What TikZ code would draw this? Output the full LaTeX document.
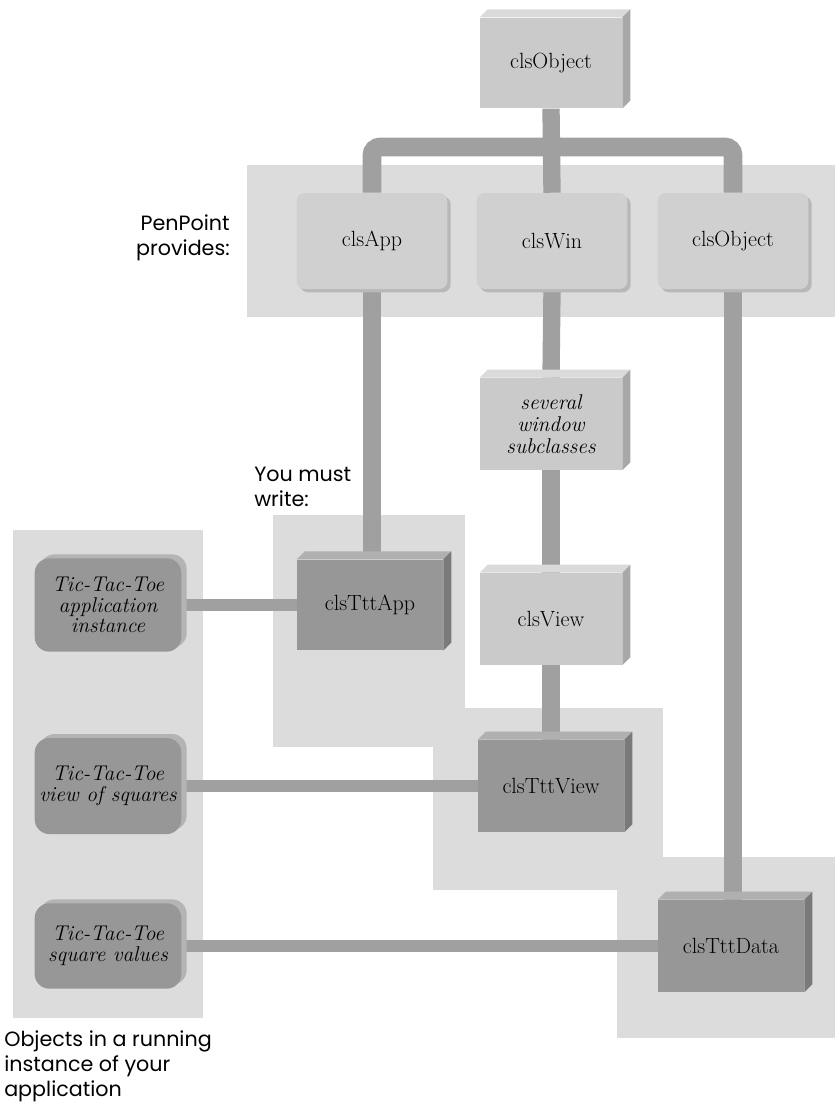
\documentclass[tikz,border=0pt]{standalone}
\usepackage{fontspec}
\newfontfamily\labelfont{Poppins}
\usetikzlibrary{calc,shadows}
\definecolor{bandc}{HTML}{DCDCDC}
\definecolor{penbox}{HTML}{D0D0D0}
\definecolor{penshade}{HTML}{B8B8B8}
\definecolor{lightbox}{HTML}{CACACA}
\definecolor{lighttop}{HTML}{DADADA}
\definecolor{lightside}{HTML}{A8A8A8}
\definecolor{darkbox}{HTML}{979797}
\definecolor{darktop}{HTML}{B0B0B0}
\definecolor{darkside}{HTML}{7A7A7A}
\definecolor{barc}{HTML}{A0A0A0}
\definecolor{rimc}{HTML}{B4B4B4}
\pgfdeclarelayer{bands}
\pgfdeclarelayer{links}
\pgfsetlayers{bands,links,main}
\newcommand\bevel[3]{%
  \fill[#2] (#1.north west) -- ++(6pt,6pt) -- ($(#1.north east)+(6pt,6pt)$) -- (#1.north east) -- cycle;
  \fill[#3] (#1.north east) -- ++(6pt,6pt) -- ($(#1.south east)+(6pt,6pt)$) -- (#1.south east) -- cycle;}
\tikzset{
  bandbox/.style={fill=bandc},
  clsfont/.style={font=\fontsize{16.5}{19}\selectfont},
  itfont/.style={font=\fontsize{16}{18.5}\selectfont\itshape, align=center},
  lightcls/.style={clsfont, fill=lightbox, inner sep=0pt, minimum width=106.5pt, minimum height=68pt},
  darkcls/.style={clsfont, fill=darkbox, inner sep=0pt, minimum width=109.5pt, minimum height=68pt},
  pencls/.style={clsfont, fill=penbox, inner sep=0pt, rounded corners=6pt, minimum width=113pt, minimum height=72pt,
    general shadow={fill=penshade, shadow xshift=2.5pt, shadow yshift=-2.5pt}},
  inst/.style={itfont, fill=darkbox, inner sep=0pt, rounded corners=11pt, minimum width=110pt,
    general shadow={fill=rimc, shadow xshift=4pt, shadow yshift=3pt}},
  stem/.style={draw=barc, line width=13pt},
  link/.style={draw=barc, line width=8.5pt},
  sidelabel/.style={font=\labelfont\fontsize{15.5}{19}\selectfont, inner sep=0pt}
}
\begin{document}
\begin{tikzpicture}[x=0.75pt,y=-0.75pt]
\useasboundingbox (0,0) rectangle (835,1113);

% class nodes
\node[lightcls] (topobj) at (551,63) {clsObject};
\node[pencls] (app) at (372,241) {clsApp};
\node[pencls] (win) at (552,241) {clsWin};
\node[pencls] (pobj) at (733,241) {clsObject};
\node[lightcls, itfont, minimum height=69pt] (several) at (551,424) {several\\[-2pt]window\\[-2pt]subclasses};
\node[lightcls, minimum height=69pt] (view) at (551,619) {clsView};
\node[darkcls] (tttapp) at (370,605) {clsTttApp};
\node[darkcls, minimum height=69pt] (tttview) at (551,786) {clsTttView};
\node[darkcls, minimum height=69pt] (tttdata) at (731,946) {clsTttData};
\bevel{topobj}{lighttop}{lightside}
\bevel{several}{lighttop}{lightside}
\bevel{view}{lighttop}{lightside}
\bevel{tttapp}{darktop}{darkside}
\bevel{tttview}{darktop}{darkside}
\bevel{tttdata}{darktop}{darkside}

% instance nodes
\node[inst, minimum height=70pt] (appinst) at (108,605) {Tic-Tac-Toe\\[-3pt]application\\[-3pt]instance};
\node[inst, minimum height=72pt] (viewinst) at (108,786) {Tic-Tac-Toe\\[-3pt]view of squares};
\node[inst, minimum height=64pt] (sqinst) at (108,946) {Tic-Tac-Toe\\[-3pt]square values};

% labels
\node[sidelabel, align=right, anchor=east] (pplabel) at (230,238) {PenPoint\\provides:};
\node[sidelabel, align=left, anchor=west] (wrlabel) at (254,487) {You must\\write:};
\node[sidelabel, align=left, anchor=north west] (objlabel) at (4,1030) {Objects in a running\\instance of your\\application};

\coordinate (barlevel) at (551,147);

\begin{pgfonlayer}{bands}
  \fill[bandbox] (247,165) rectangle (835,317);
  \fill[bandbox] (13,530) rectangle (203,1018);
  \fill[bandbox] (273,515) rectangle (465,747);
  \fill[bandbox] (433,708) rectangle (663,890);
  \fill[bandbox] (617,857) rectangle (835,1038);
\end{pgfonlayer}

\begin{pgfonlayer}{links}
  \draw[stem] (topobj.south) -- (win.north);
  \draw[stem, line width=14pt, rounded corners=6pt] (app.north) -- (app.north |- barlevel) -- (pobj.north |- barlevel) -- (pobj.north);
  \draw[stem] (app.south) -- (tttapp.north -| app.south);
  \draw[stem] (win.south) -- (several.north);
  \draw[stem] (several.south) -- (view.north);
  \draw[stem] (view.south) -- (tttview.north);
  \draw[stem] (pobj.south) -- (tttdata.north -| pobj.south);
  \draw[link] (appinst.east) -- (tttapp.west);
  \draw[link] (viewinst.east) -- (tttview.west);
  \draw[link] (sqinst.east) -- (tttdata.west);
\end{pgfonlayer}
\end{tikzpicture}
\end{document}
